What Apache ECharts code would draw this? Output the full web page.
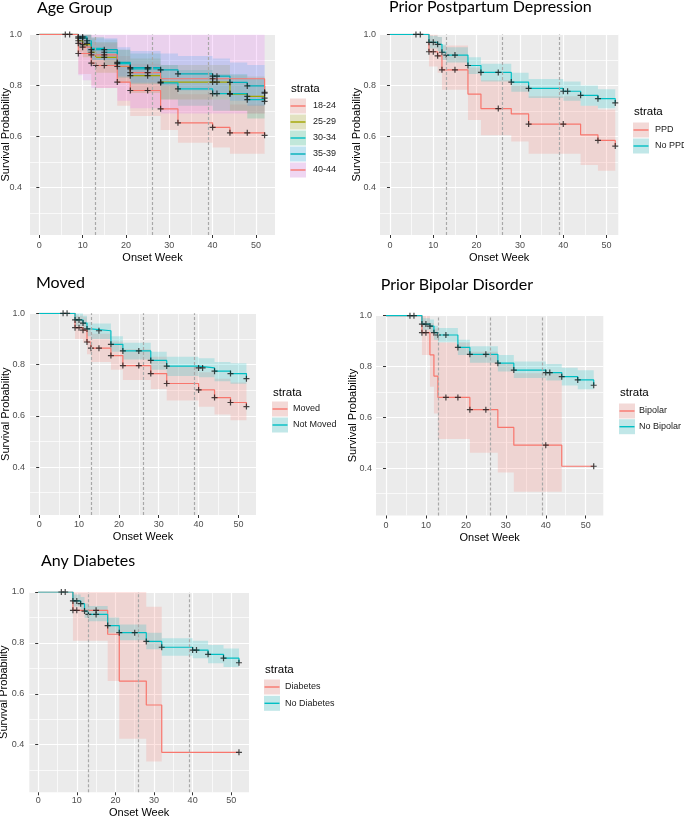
<!DOCTYPE html>
<html>
<head>
<meta charset="utf-8">
<script src="https://cdn.jsdelivr.net/npm/echarts@6/dist/echarts.min.js"></script>
<style>
  html, body { margin: 0; padding: 0; background: #fff; }
  #chart { width: 684px; height: 816px; }
</style>
</head>
<body>
<div id="chart"></div>
<script>
// shared axis ticks
var xMajor = [0, 10, 20, 30, 40, 50];
var xMinor = [5, 15, 25, 35, 45];
var yMajor = [0.4, 0.6, 0.8, 1.0];
var yMinor = [0.3, 0.5, 0.7, 0.9];
var trimesters = [13, 26, 39]; // dashed reference weeks

// Age Group
var ageLabels = ['18-24', '25-29', '30-34', '35-39', '40-44'];
var age1824Time = [0, 9, 12, 13, 18, 21, 28, 32, 40, 44, 52];
var age1824Surv = [1, 0.925, 0.887, 0.878, 0.813, 0.78, 0.708, 0.653, 0.635, 0.614, 0.604];
var age1824Low = [null, 0.845, 0.80, 0.79, 0.72, 0.68, 0.625, 0.575, 0.556, 0.532, null];
var age1824Up = [null, 1, 0.97, 0.965, 0.915, 0.885, 0.815, 0.765, 0.745, 0.725, null];
var age1824Cens = [9, 12, 13, 15, 18, 21, 25, 28, 32, 40, 44, 48, 52];

var age2529Time = [0, 9, 10, 12, 13, 18, 21, 28, 44, 48, 52];
var age2529Surv = [1, 0.975, 0.96, 0.93, 0.91, 0.874, 0.838, 0.813, 0.766, 0.757, 0.75];
var age2529Low = [null, 0.93, 0.91, 0.88, 0.85, 0.81, 0.77, 0.745, 0.70, 0.69, null];
var age2529Up = [null, 1, 1, 0.985, 0.97, 0.94, 0.905, 0.88, 0.84, 0.835, null];
var age2529Cens = [9, 10, 12, 15, 18, 21, 25, 28, 40, 41, 44, 48, 52];

var age3034Time = [0, 9, 11, 12, 15, 18, 21, 28, 32, 40, 48, 52];
var age3034Surv = [1, 0.985, 0.965, 0.945, 0.93, 0.885, 0.865, 0.81, 0.786, 0.768, 0.744, 0.737];
var age3034Low = [null, 0.95, 0.925, 0.9, 0.88, 0.83, 0.805, 0.745, 0.72, 0.70, 0.67, null];
var age3034Up = [null, 1, 1, 0.99, 0.98, 0.94, 0.925, 0.88, 0.86, 0.845, 0.825, null];
var age3034Cens = [9, 10, 11, 15, 18, 21, 25, 28, 32, 40, 41, 44, 48, 52];

var age3539Time = [0, 9, 11, 12, 18, 21, 28, 32, 40, 44, 48, 52];
var age3539Surv = [1, 0.99, 0.975, 0.94, 0.89, 0.87, 0.861, 0.845, 0.836, 0.812, 0.798, 0.773];
var age3539Low = [null, 0.96, 0.935, 0.9, 0.835, 0.81, 0.8, 0.78, 0.77, 0.74, 0.72, null];
var age3539Up = [null, 1, 1, 0.985, 0.95, 0.935, 0.925, 0.915, 0.905, 0.89, 0.88, null];
var age3539Cens = [6, 7, 9, 10, 11, 12, 15, 18, 21, 25, 28, 32, 40, 41, 44, 48, 52];

var age4044Time = [0, 9, 10, 12, 18, 21, 28, 52];
var age4044Surv = [1, 0.965, 0.95, 0.92, 0.875, 0.85, 0.826, 0.77];
var age4044Low = [null, 0.84, 0.82, 0.79, 0.74, 0.71, 0.69, null];
var age4044Up = [null, 1, 1, 1, 1, 1, 1, null];
var age4044Cens = [9, 10, 12, 15, 21, 25, 40, 52];

// Prior Postpartum Depression
var ppdLabels = ['PPD', 'No PPD'];
var ppdTime = [0, 9, 11, 12, 18, 21, 28, 32, 44, 48, 52];
var ppdSurv = [1, 0.932, 0.916, 0.861, 0.766, 0.709, 0.688, 0.648, 0.606, 0.584, 0.562];
var ppdLow = [null, 0.874, 0.85, 0.783, 0.664, 0.604, 0.58, 0.532, 0.488, 0.465, null];
var ppdUp = [null, 1, 0.99, 0.956, 0.87, 0.82, 0.80, 0.757, 0.72, 0.705, null];
var ppdCens = [9, 10, 11, 12, 15, 25, 32, 40, 48, 52];

var noPpdTime = [0, 9, 11, 12, 13, 18, 21, 28, 32, 40, 44, 48, 52];
var noPpdSurv = [1, 0.969, 0.961, 0.93, 0.919, 0.878, 0.851, 0.813, 0.788, 0.777, 0.761, 0.748, 0.731];
var noPpdLow = [null, 0.945, 0.935, 0.9, 0.89, 0.845, 0.815, 0.775, 0.75, 0.74, 0.72, 0.71, null];
var noPpdUp = [null, 0.995, 0.99, 0.96, 0.95, 0.91, 0.885, 0.85, 0.825, 0.815, 0.8, 0.785, null];
var noPpdCens = [6, 7, 9, 10, 11, 12, 13, 15, 18, 21, 25, 28, 32, 40, 41, 44, 48, 52];

// Moved
var movedLabels = ['Moved', 'Not Moved'];
var movedTime = [0, 9, 11, 12, 13, 18, 21, 28, 32, 40, 44, 48, 52];
var movedSurv = [1, 0.944, 0.934, 0.888, 0.864, 0.835, 0.796, 0.765, 0.726, 0.701, 0.671, 0.652, 0.636];
var movedLow = [null, 0.9, 0.885, 0.84, 0.81, 0.78, 0.74, 0.705, 0.66, 0.635, 0.605, 0.583, null];
var movedUp = [null, 0.99, 0.985, 0.94, 0.92, 0.89, 0.86, 0.83, 0.79, 0.77, 0.745, 0.73, null];
var movedCens = [9, 10, 11, 12, 13, 15, 18, 21, 25, 28, 32, 40, 44, 48, 52];

var notMovedTime = [0, 9, 11, 12, 13, 18, 21, 28, 32, 40, 44, 48, 52];
var notMovedSurv = [1, 0.974, 0.962, 0.939, 0.932, 0.879, 0.853, 0.816, 0.794, 0.787, 0.774, 0.765, 0.745];
var notMovedLow = [null, 0.95, 0.935, 0.91, 0.9, 0.85, 0.82, 0.78, 0.755, 0.75, 0.735, 0.725, null];
var notMovedUp = [null, 1, 0.99, 0.965, 0.96, 0.91, 0.885, 0.85, 0.83, 0.825, 0.81, 0.805, null];
var notMovedCens = [6, 7, 9, 10, 11, 12, 15, 18, 21, 25, 28, 32, 40, 41, 44, 48, 52];

// Prior Bipolar Disorder
var bipLabels = ['Bipolar', 'No Bipolar'];
var bipTime = [0, 9, 11, 12, 13, 21, 28, 32, 44, 52];
var bipSurv = [1, 0.933, 0.846, 0.762, 0.678, 0.63, 0.56, 0.49, 0.407, 0.407];
var bipLow = [null, 0.845, 0.72, 0.615, 0.514, 0.46, 0.382, 0.307, null, null];
var bipUp = [null, 1, 0.97, 0.95, 0.894, 0.858, 0.81, 0.773, null, null];
var bipCens = [9, 10, 15, 18, 21, 25, 40, 52];

var noBipTime = [0, 9, 11, 12, 13, 18, 21, 28, 32, 40, 44, 48, 52];
var noBipSurv = [1, 0.967, 0.959, 0.933, 0.924, 0.875, 0.848, 0.813, 0.786, 0.776, 0.76, 0.747, 0.726];
var noBipLow = [null, 0.945, 0.935, 0.905, 0.895, 0.845, 0.815, 0.78, 0.755, 0.745, 0.725, 0.71, null];
var noBipUp = [null, 0.99, 0.985, 0.96, 0.952, 0.905, 0.88, 0.845, 0.82, 0.81, 0.795, 0.785, null];
var noBipCens = [6, 7, 9, 10, 11, 12, 13, 15, 18, 21, 25, 28, 32, 40, 41, 44, 48, 52];

// Any Diabetes
var diaLabels = ['Diabetes', 'No Diabetes'];
var diaTime = [0, 9, 18, 21, 28, 32, 52];
var diaSurv = [1, 0.928, 0.834, 0.65, 0.556, 0.37, 0.37];
var diaLow = [null, 0.808, 0.65, 0.423, 0.334, null, null];
var diaUp = [null, 1, 1, 1, 0.942, null, null];
var diaCens = [9, 10, 15, 52];

var noDiaTime = [0, 9, 11, 12, 13, 18, 21, 28, 32, 40, 44, 48, 52];
var noDiaSurv = [1, 0.965, 0.954, 0.925, 0.912, 0.868, 0.84, 0.806, 0.783, 0.772, 0.755, 0.74, 0.722];
var noDiaLow = [null, 0.943, 0.93, 0.898, 0.885, 0.84, 0.81, 0.775, 0.75, 0.74, 0.72, 0.705, null];
var noDiaUp = [null, 0.99, 0.98, 0.955, 0.945, 0.9, 0.872, 0.84, 0.818, 0.808, 0.792, 0.778, null];
var noDiaCens = [6, 7, 9, 10, 11, 12, 13, 15, 18, 21, 25, 28, 32, 40, 41, 44, 48, 52];

// colours (ggplot hue)
var RED = '#F8766D', TEAL = '#00BFC4';
var ageLine = [RED, '#A3A500', TEAL, '#00AFB9', RED];
var ageFill = [RED, '#A3A500', '#00BF7D', '#00B0F6', '#E76BF3'];

function stratum(name, time, surv, low, up, cens, line, fill) {
    return { name: name, time: time, surv: surv, low: low, up: up, cens: cens, line: line, fill: fill };
}

// panel positions (pixels) and their strata
var panels = [
    {
        title: 'Age Group', titleX: 37, titleY: 0,
        grid: { left: 30, top: 34.4, width: 245, height: 200.6 }, xMin: -2.15, xMax: 54.4,
        xLabelMargin: 6.3, xNameGap: 17, yLabelMargin: 8, yNameGap: 19,
        legX: 290, legY: 89, legItemY: [106, 122, 138, 154, 170], legTextX: 313,
        strata: [
            stratum(ageLabels[0], age1824Time, age1824Surv, age1824Low, age1824Up, age1824Cens, ageLine[0], ageFill[0]),
            stratum(ageLabels[1], age2529Time, age2529Surv, age2529Low, age2529Up, age2529Cens, ageLine[1], ageFill[1]),
            stratum(ageLabels[2], age3034Time, age3034Surv, age3034Low, age3034Up, age3034Cens, ageLine[2], ageFill[2]),
            stratum(ageLabels[3], age3539Time, age3539Surv, age3539Low, age3539Up, age3539Cens, ageLine[3], ageFill[3]),
            stratum(ageLabels[4], age4044Time, age4044Surv, age4044Low, age4044Up, age4044Cens, ageLine[4], ageFill[4])
        ]
    },
    {
        title: 'Prior Postpartum Depression', titleX: 389, titleY: -1,
        grid: { left: 380, top: 34.4, width: 238.3, height: 200.6 }, xMin: -2.3, xMax: 52.7,
        xLabelMargin: 6.3, xNameGap: 17, yLabelMargin: 4, yNameGap: 17.3,
        legX: 633, legY: 112, legItemY: [130, 146], legTextX: 655,
        strata: [
            stratum(ppdLabels[0], ppdTime, ppdSurv, ppdLow, ppdUp, ppdCens, RED, RED),
            stratum(ppdLabels[1], noPpdTime, noPpdSurv, noPpdLow, noPpdUp, noPpdCens, TEAL, TEAL)
        ]
    },
    {
        title: 'Moved', titleX: 36, titleY: 275,
        grid: { left: 30, top: 313.3, width: 226, height: 201.7 }, xMin: -2.3, xMax: 54.4,
        xLabelMargin: 5.3, xNameGap: 16.5, yLabelMargin: 5, yNameGap: 19,
        legX: 272, legY: 392.7, legItemY: [409, 425], legTextX: 293,
        strata: [
            stratum(movedLabels[0], movedTime, movedSurv, movedLow, movedUp, movedCens, RED, RED),
            stratum(movedLabels[1], notMovedTime, notMovedSurv, notMovedLow, notMovedUp, notMovedCens, TEAL, TEAL)
        ]
    },
    {
        title: 'Prior Bipolar Disorder', titleX: 380.7, titleY: 276.5,
        grid: { left: 376, top: 315.7, width: 227.3, height: 199.8 }, xMin: -2.5, xMax: 54.4,
        xLabelMargin: 5.3, xNameGap: 17, yLabelMargin: 4, yNameGap: 17.3,
        legX: 619, legY: 393.3, legItemY: [411, 426.7], legTextX: 639,
        strata: [
            stratum(bipLabels[0], bipTime, bipSurv, bipLow, bipUp, bipCens, RED, RED),
            stratum(bipLabels[1], noBipTime, noBipSurv, noBipLow, noBipUp, noBipCens, TEAL, TEAL)
        ]
    },
    {
        title: 'Any Diabetes', titleX: 41, titleY: 553,
        grid: { left: 29.3, top: 592, width: 219.7, height: 200.3 }, xMin: -2.3, xMax: 54.6,
        xLabelMargin: 3.6, xNameGap: 15.3, yLabelMargin: 5, yNameGap: 20,
        legX: 264, legY: 670, legItemY: [687, 703.3], legTextX: 285,
        strata: [
            stratum(diaLabels[0], diaTime, diaSurv, diaLow, diaUp, diaCens, RED, RED),
            stratum(diaLabels[1], noDiaTime, noDiaSurv, noDiaLow, noDiaUp, noDiaCens, TEAL, TEAL)
        ]
    }
];

var AXIS_FONT = '"Liberation Sans", Arial, sans-serif';
var TITLE_FONT = 'Lato, "Open Sans", sans-serif';
var PLUS = 'path://M0,2 L2,2 L2,0 L3,0 L3,2 L5,2 L5,3 L3,3 L3,5 L2,5 L2,3 L0,3 Z';

//某时刻的生存率（阶梯取值）
function survAt(time, surv, t) {
    var s = surv[0];
    for (var i = 0; i < time.length; i++) {
        if (time[i] <= t) s = surv[i];
    }
    return s;
}

//置信区间阶梯段：[起点, 终点, 下界, 上界]
function bandSegments(s) {
    var segs = [];
    for (var j = 0; j < s.time.length - 1; j++) {
        if (s.low[j] == null || s.up[j] == null) continue;
        segs.push([s.time[j], s.time[j + 1], s.low[j], Math.min(s.up[j], 1)]);
    }
    return segs;
}

// 把相邻阶梯段拼成一个多边形，坐标通过 api.coord 换算
function bandRenderer(fill) {
    return function(params, api) {
        if (params.dataIndex !== 0) return;
        var n = params.dataInsideLength;
        var upper = [], lower = [];
        for (var j = 0; j < n; j++) {
            var t0 = api.value(0, j), t1 = api.value(1, j);
            var lo = api.value(2, j), hi = api.value(3, j);
            upper.push(api.coord([t0, hi]), api.coord([t1, hi]));
            lower.push(api.coord([t0, lo]), api.coord([t1, lo]));
        }
        var pts = upper.concat(lower.reverse());
        return {
            type: 'polygon',
            shape: { points: pts },
            style: { fill: fill, opacity: 0.2 }
        };
    };
}

var grids = [], xAxes = [], yAxes = [], series = [], graphics = [];

panels.forEach(function(p, i) {
    grids.push({
        left: p.grid.left, top: p.grid.top, width: p.grid.width, height: p.grid.height,
        show: true, backgroundColor: '#EBEBEB', borderWidth: 0,
        containLabel: false, outerBoundsMode: 'none'
    });

    // main x axis + minor grid axis
    xAxes.push({
        gridIndex: i, type: 'value', min: p.xMin, max: p.xMax, position: 'bottom',
        axisLine: { show: false },
        axisTick: { show: true, length: 3, customValues: xMajor, lineStyle: { color: '#333', width: 1 } },
        axisLabel: { customValues: xMajor, color: '#4D4D4D', fontSize: 9, fontFamily: AXIS_FONT, margin: p.xLabelMargin },
        splitLine: { show: true, lineStyle: { color: '#fff', width: 1.2 } },
        name: 'Onset Week', nameLocation: 'middle', nameGap: p.xNameGap, nameMoveOverlap: false,
        nameTextStyle: { color: '#000', fontSize: 11, fontFamily: AXIS_FONT }
    });
    xAxes.push({
        gridIndex: i, type: 'value', min: p.xMin, max: p.xMax, position: 'top',
        axisLine: { show: false },
        axisTick: { show: false, customValues: xMinor },
        axisLabel: { show: false },
        splitLine: { show: true, lineStyle: { color: '#fff', width: 0.7 } }
    });

    yAxes.push({
        gridIndex: i, type: 'value', min: 0.213, max: 1.0, position: 'left',
        axisLine: { show: false },
        axisTick: { show: true, length: 3, customValues: yMajor, lineStyle: { color: '#333', width: 1 } },
        axisLabel: {
            customValues: yMajor, color: '#4D4D4D', fontSize: 9, fontFamily: AXIS_FONT, margin: p.yLabelMargin,
            formatter: function(v) { return v.toFixed(1); }
        },
        splitLine: { show: true, lineStyle: { color: '#fff', width: 1.2 } },
        name: 'Survival Probability', nameLocation: 'middle', nameGap: p.yNameGap, nameMoveOverlap: false,
        nameTextStyle: { color: '#000', fontSize: 11, fontFamily: AXIS_FONT }
    });
    yAxes.push({
        gridIndex: i, type: 'value', min: 0.213, max: 1.0, position: 'right',
        axisLine: { show: false },
        axisTick: { show: false, customValues: yMinor },
        axisLabel: { show: false },
        splitLine: { show: true, lineStyle: { color: '#fff', width: 0.7 } }
    });

    var xi = 2 * i, yi = 2 * i;

    p.strata.forEach(function(s, k) {
        var band = {
            type: 'custom', name: s.name + ' CI', xAxisIndex: xi, yAxisIndex: yi,
            silent: true, z: 1, clip: true,
            renderItem: bandRenderer(s.fill),
            encode: { x: [0, 1], y: [2, 3] },
            data: bandSegments(s)
        };
        if (k === 0) {
            band.markLine = {
                silent: true, symbol: 'none', label: { show: false },
                lineStyle: { color: '#A8A8A8', type: [3, 2], width: 1.2 },
                data: trimesters.map(function(w) { return { xAxis: w }; })
            };
        }
        series.push(band);
    });

    p.strata.forEach(function(s) {
        series.push({
            type: 'line', name: s.name, xAxisIndex: xi, yAxisIndex: yi,
            step: 'end', symbol: 'none', silent: true, z: 3,
            lineStyle: { color: s.line, width: 1.2 },
            data: s.time.map(function(t, j) { return [t, s.surv[j]]; })
        });
    });

    p.strata.forEach(function(s) {
        series.push({
            type: 'scatter', name: s.name + ' censor', xAxisIndex: xi, yAxisIndex: yi,
            symbol: PLUS, symbolSize: 6, silent: true, z: 4,
            itemStyle: { color: '#1a1a1a' },
            data: s.cens.map(function(t) { return [t, survAt(s.time, s.surv, t)]; })
        });
    });

    // 标题
    graphics.push({
        type: 'text', x: p.titleX, y: p.titleY,
        style: { text: p.title, font: '16px ' + TITLE_FONT, fill: '#000', verticalAlign: 'top' }
    });

    // ggplot 风格图例
    graphics.push({
        type: 'text', x: p.legX + 1, y: p.legY,
        style: { text: 'strata', font: '11.5px ' + AXIS_FONT, fill: '#000', verticalAlign: 'middle' }
    });
    p.strata.forEach(function(s, k) {
        var cy = p.legItemY[k];
        graphics.push({
            type: 'rect', shape: { x: p.legX, y: cy - 7.5, width: 16, height: 15 },
            style: { fill: '#F2F2F2' }
        });
        graphics.push({
            type: 'rect', shape: { x: p.legX, y: cy - 7.5, width: 16, height: 15 },
            style: { fill: s.fill, opacity: 0.2 }
        });
        graphics.push({
            type: 'line', shape: { x1: p.legX + 0.5, y1: cy, x2: p.legX + 15.5, y2: cy },
            style: { stroke: s.line, lineWidth: 1.4 }
        });
        graphics.push({
            type: 'text', x: p.legTextX, y: cy,
            style: { text: s.name, font: '9px ' + AXIS_FONT, fill: '#1a1a1a', verticalAlign: 'middle' }
        });
    });
});

var myChart = echarts.init(document.getElementById('chart'), null, { renderer: 'canvas' });
myChart.setOption({
    animation: false,
    backgroundColor: '#fff',
    grid: grids,
    xAxis: xAxes,
    yAxis: yAxes,
    series: series,
    graphic: { elements: graphics }
});
</script>
</body>
</html>
